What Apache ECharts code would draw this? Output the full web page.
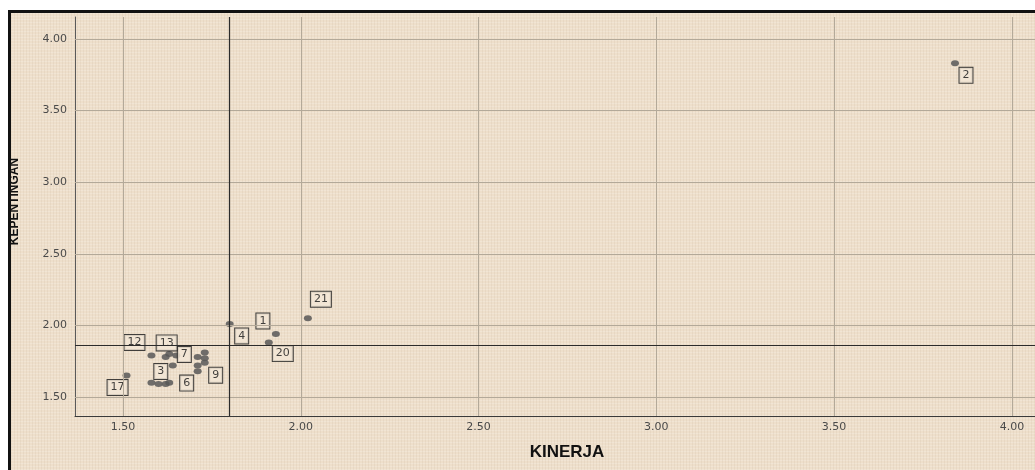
<!DOCTYPE html>
<html>
<head>
<meta charset="utf-8">
<script src="https://cdn.jsdelivr.net/npm/echarts@6/dist/echarts.min.js"></script>
<style>
  html, body { margin:0; padding:0; background:#ffffff; width:1035px; height:470px; overflow:hidden; }
  #frame {
    position:absolute; left:8px; top:10px; width:1024px; height:457px;
    border-top:3px solid #111; border-left:3px solid #111;
    overflow:hidden;
    background-color:#eedfcb;
    background-image:
      repeating-linear-gradient(90deg, rgba(140,110,80,0.07) 0px, rgba(140,110,80,0.07) 1px, rgba(0,0,0,0) 1px, rgba(0,0,0,0) 3px),
      repeating-linear-gradient(0deg, rgba(255,255,255,0.18) 0px, rgba(255,255,255,0.18) 1px, rgba(0,0,0,0) 1px, rgba(0,0,0,0) 3px);
  }
  #chart { position:absolute; left:0; top:0; width:1024px; height:457px; }
</style>
</head>
<body>
<div id="frame"><div id="chart"></div></div>
<script>
// ---- data ----
const itemIds     = [1, 2, 3, 4, 5, 6, 7, 8, 9, 10, 11, 12, 13, 14, 15, 16, 17, 18, 19, 20, 21];
const kinerja     = [1.93, 3.84, 1.64, 1.80, 1.63, 1.62, 1.65, 1.71, 1.71, 1.73, 1.73, 1.58, 1.62, 1.71, 1.73, 1.58, 1.51, 1.60, 1.63, 1.91, 2.02];
const kepentingan = [1.94, 3.83, 1.72, 2.01, 1.80, 1.59, 1.79, 1.78, 1.68, 1.81, 1.77, 1.79, 1.78, 1.72, 1.74, 1.60, 1.65, 1.59, 1.60, 1.88, 2.05];
const labelledIds = [1, 2, 3, 4, 6, 7, 9, 12, 13, 17, 20, 21];
const xTicks = [1.50, 2.00, 2.50, 3.00, 3.50, 4.00];
const yTicks = [1.50, 2.00, 2.50, 3.00, 3.50, 4.00];
const meanKinerja = 1.80;
const meanKepentingan = 1.86;
const xName = 'KINERJA';
const yName = 'KEPENTINGAN';

// ---- layout / style (label box offsets in pixels) ----
const labelOffset = {
  1: [-13, -13], 2: [11, 12], 3: [-12, 6], 4: [12, 12], 6: [21, -1], 7: [8, -1],
  9: [18, 4], 12: [-17, -13], 13: [1, -14], 17: [-9, 12], 20: [14, 11], 21: [13, -19]
};

const points = itemIds.map((id, i) => {
  const hasLabel = labelledIds.indexOf(id) >= 0;
  return {
    value: [kinerja[i], kepentingan[i], id],
    label: hasLabel ? { show: true, offset: labelOffset[id] || [10, 10] } : { show: false }
  };
});

const gridStyle = { color: '#b3a999', width: 1, type: 'solid' };
const refStyle = { color: '#2b2b2b', width: 1.2, type: 'solid' };

const markData = []
  .concat(xTicks.map(v => ({ xAxis: v, lineStyle: gridStyle })))
  .concat(yTicks.map(v => ({ yAxis: v, lineStyle: gridStyle })))
  .concat([{ xAxis: meanKinerja, lineStyle: refStyle }, { yAxis: meanKepentingan, lineStyle: refStyle }]);

const fmt = v => Number(v).toFixed(2);
const tickFont = { color: '#4a4a4a', fontSize: 11, fontFamily: 'DejaVu Sans' };

const chart = echarts.init(document.getElementById('chart'), null, { renderer: 'canvas' });
chart.setOption({
  backgroundColor: 'transparent',
  animation: false,
  grid: { left: 64, top: 4, right: 0, bottom: 54, containLabel: false, outerBoundsMode: 'none' },
  xAxis: {
    type: 'value', min: 1.365, max: 4.065,
    name: xName, nameLocation: 'middle', nameGap: 28,
    nameTextStyle: { color: '#111', fontSize: 17, fontWeight: 'bold', fontFamily: 'Liberation Sans', padding: [0, 0, 0, 24] },
    axisLine: { show: true, lineStyle: { color: '#3a3a3a', width: 1 } },
    axisTick: { show: false },
    splitLine: { show: false },
    axisLabel: Object.assign({ customValues: xTicks, formatter: fmt, margin: 6 }, tickFont)
  },
  yAxis: {
    type: 'value', min: 1.3673, max: 4.1536,
    name: yName, nameLocation: 'middle', nameGap: 54, nameRotate: 90,
    nameTextStyle: { color: '#111', fontSize: 12, fontWeight: 'bold', fontFamily: 'Liberation Sans', padding: [0, 0, 0, 30] },
    axisLine: { show: true, lineStyle: { color: '#5a5a5a', width: 1 } },
    axisTick: { show: false },
    splitLine: { show: false },
    axisLabel: Object.assign({ customValues: yTicks, formatter: fmt, margin: 8 }, tickFont)
  },
  series: [
    {
      type: 'line', data: [], z: 1, silent: true,
      markLine: { silent: true, symbol: ['none', 'none'], label: { show: false }, animation: false, data: markData }
    },
    {
      type: 'scatter', z: 3,
      symbol: 'circle', symbolSize: [8, 6],
      itemStyle: { color: '#585858', opacity: 0.85 },
      label: {
        show: false, position: 'inside',
        formatter: p => String(p.value[2]),
        color: '#222', fontSize: 11, fontFamily: 'DejaVu Sans',
        backgroundColor: '#f2e6d6', borderColor: '#222', borderWidth: 1,
        padding: [2, 3, 1, 3], lineHeight: 12
      },
      data: points
    }
  ]
});
</script>
</body>
</html>
